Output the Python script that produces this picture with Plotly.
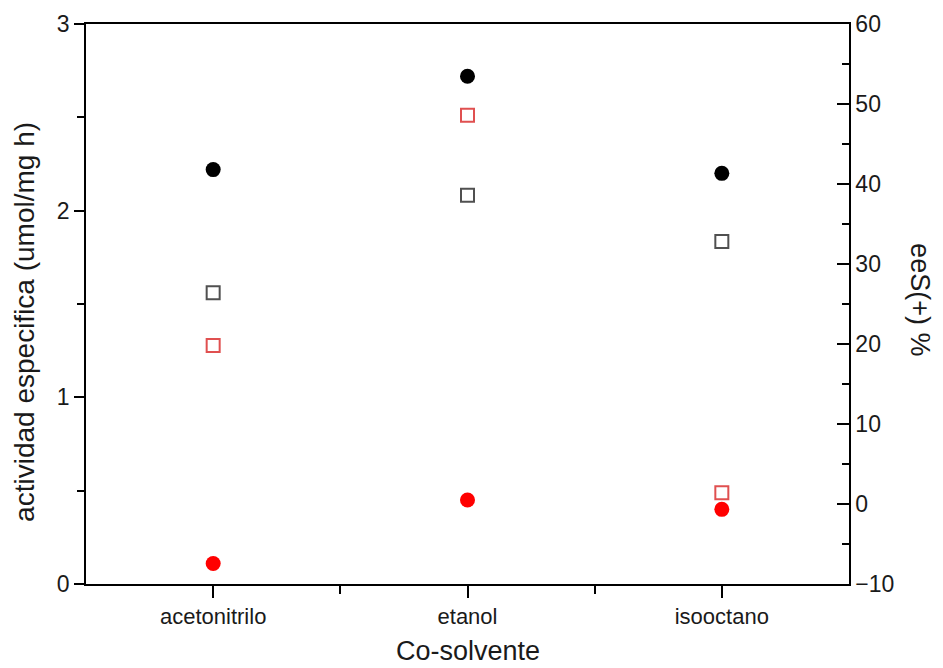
import plotly.graph_objects as go

# Co-solvent categories
categories = ["acetonitrilo", "etanol", "isooctano"]

# Specific activity (umol/mg h), left axis
actividad_negro = [2.22, 2.72, 2.20]
actividad_rojo = [0.11, 0.45, 0.40]

# Enantiomeric excess eeS(+) %, right axis
ees_negro = [26.4, 38.6, 32.8]
ees_rojo = [19.8, 48.6, 1.4]

# Left and right axis tick values
ticks_izq = [0, 1, 2, 3]
ticks_der = [-10, 0, 10, 20, 30, 40, 50, 60]

pos = list(range(len(categories)))
FONT = "Liberation Sans, Arial, sans-serif"
TXT = "#1a1a1a"

fig = go.Figure()

fig.add_trace(go.Scatter(
    x=pos, y=actividad_negro, mode="markers", yaxis="y",
    marker=dict(symbol="circle", size=15, color="black"),
    showlegend=False))
fig.add_trace(go.Scatter(
    x=pos, y=actividad_rojo, mode="markers", yaxis="y",
    marker=dict(symbol="circle", size=15, color="#ff0000"),
    showlegend=False))
fig.add_trace(go.Scatter(
    x=pos, y=ees_negro, mode="markers", yaxis="y2",
    marker=dict(symbol="square-open", size=13, color="#505050",
                line=dict(width=2)),
    showlegend=False))
fig.add_trace(go.Scatter(
    x=pos, y=ees_rojo, mode="markers", yaxis="y2",
    marker=dict(symbol="square-open", size=13, color="#e05050",
                line=dict(width=2)),
    showlegend=False))

axis_line = dict(showline=True, linecolor="black", linewidth=1.5,
                 showgrid=False, zeroline=False, automargin=False)

fig.update_layout(
    width=943, height=668,
    margin=dict(l=86, r=94, t=24, b=84),
    paper_bgcolor="white", plot_bgcolor="white",
    font=dict(family=FONT, color=TXT),
    xaxis=dict(
        **axis_line, mirror=True,
        range=[-0.5, len(categories) - 0.5],
        tickmode="array", tickvals=pos, ticktext=categories,
        ticks="outside", ticklen=12, tickwidth=1.5, tickcolor="black",
        tickfont=dict(size=22, family=FONT, color=TXT),
        minor=dict(tickmode="array",
                   tickvals=[p + 0.5 for p in pos[:-1]],
                   ticks="outside", ticklen=8, tickwidth=1.5,
                   tickcolor="black"),
    ),
    yaxis=dict(
        **axis_line,
        range=[0, 3], tickmode="array", tickvals=ticks_izq,
        ticks="outside", ticklen=10, tickwidth=1.5, tickcolor="black",
        tickfont=dict(size=23, family=FONT, color=TXT),
        minor=dict(dtick=0.5, ticks="outside", ticklen=7, tickwidth=1.5,
                   tickcolor="black"),
    ),
    yaxis2=dict(
        **axis_line, overlaying="y", side="right",
        range=[-10, 60], tickmode="array", tickvals=ticks_der,
        ticks="inside", ticklen=12, tickwidth=1.5, tickcolor="black",
        tickfont=dict(size=23, family=FONT, color=TXT),
        minor=dict(dtick=5, tick0=-10, ticks="inside", ticklen=7,
                   tickwidth=1.5, tickcolor="black"),
    ),
    annotations=[
        dict(text="Co-solvente", xref="paper", yref="paper",
             x=0.5, y=-0.119, xanchor="center", yanchor="middle",
             showarrow=False, font=dict(size=27, family=FONT, color=TXT)),
        dict(text="actividad especifica (umol/mg h)", xref="paper",
             yref="paper", x=-0.080, y=0.468, xanchor="center",
             yanchor="middle", textangle=-90, showarrow=False,
             font=dict(size=28, family=FONT, color=TXT)),
        dict(text="eeS(+) %", xref="paper", yref="paper",
             x=1.093, y=0.507, xanchor="center", yanchor="middle",
             textangle=90, showarrow=False,
             font=dict(size=27, family=FONT, color=TXT)),
    ],
)

fig.write_html("out.html")
